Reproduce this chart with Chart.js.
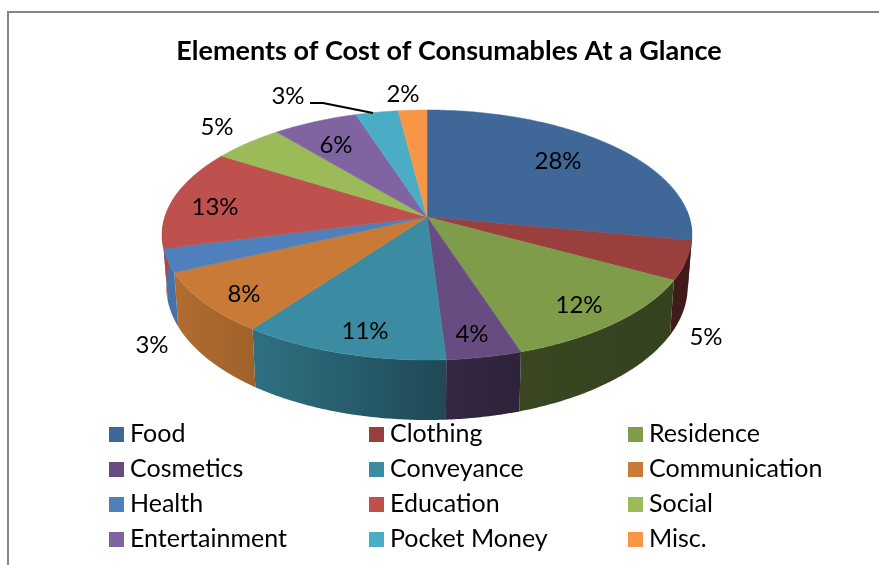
<!DOCTYPE html>
<html>
<head>
<meta charset="utf-8">
<style>
  html, body { margin: 0; padding: 0; background: #fff; }
  #wrap { width: 879px; height: 565px; position: relative; }
</style>
<script src="https://cdn.jsdelivr.net/npm/chart.js@4"></script>
</head>
<body>
<div id="wrap"><canvas id="cost"></canvas></div>
<script>
const titleText = 'Elements of Cost of Consumables At a Glance';
const categories = ['Food', 'Clothing', 'Residence', 'Cosmetics', 'Conveyance', 'Communication',
                    'Health', 'Education', 'Social', 'Entertainment', 'Pocket Money', 'Misc.'];
const shares = [28, 5, 12, 4, 11, 8, 3, 13, 5, 6, 3, 2];
const sliceColors = ['#3F6797', '#993F3E', '#7E9C4A', '#664C81', '#3B8CA3', '#C87A36',
                     '#4F80BC', '#BE504D', '#9BBB59', '#8064A2', '#4BACC6', '#F79646'];

// Perspective of the tilted disc
const APEX = { x: 427, y: 217 };
const RADIUS_X = 262.2, RADIUS_Y = 122.4, TILT = 0.144;
const WALL_INSET = 0.984;
const FONT_FACE = '"Lato", sans-serif';

// Where each percentage sits, in slice order
const labelAnchors = [[558,161],[706,337],[579,305],[472,334],[365,331],[244,294],
                      [152,345],[215,207],[217,127],[336,145],[288,96],[403,94]];
const leaderLine = [[310,103],[323,103],[373,113]];
const legendColumns = [109, 369, 628];
const legendRows = [434.5, 469.5, 504.5, 539.5];

function topPoint(angle) {
  const u = Math.cos(angle), v = Math.sin(angle);
  const s = 1 / (1 - TILT * v);
  return [APEX.x + RADIUS_X * u * s, APEX.y + RADIUS_Y * v * s];
}
function wallPoint(angle) {
  const [x, y] = topPoint(angle);
  return [APEX.x + (x - APEX.x) * WALL_INSET, y + 50 + 10 * Math.sin(angle)];
}
function arcAngles(start, end) {
  const steps = Math.max(2, Math.ceil((end - start) / 0.01));
  const out = [];
  for (let i = 0; i <= steps; i++) out.push(start + (end - start) * i / steps);
  return out;
}
// The side of the disc falls into shadow from left to right
function wallShade(x) {
  const knots = [[165,.9],[255,.8],[445,.52],[527,.45],[690,.42]];
  if (x <= knots[0][0]) return knots[0][1];
  for (let i = 1; i < knots.length; i++) {
    if (x <= knots[i][0]) {
      const [x0, f0] = knots[i-1], [x1, f1] = knots[i];
      return f0 + (f1 - f0) * (x - x0) / (x1 - x0);
    }
  }
  return knots[knots.length-1][1];
}
function shaded(hex, f) {
  const n = parseInt(hex.slice(1), 16);
  return `rgb(${Math.round((n>>16&255)*f)},${Math.round((n>>8&255)*f)},${Math.round((n&255)*f)})`;
}

const discPlugin = {
  id: 'disc',
  beforeDraw(chart) {
    const c = chart.ctx;
    c.save();
    c.strokeStyle = '#868686';
    c.lineWidth = 2;
    c.beginPath();
    c.moveTo(8, 565); c.lineTo(8, 12); c.lineTo(879, 12);
    c.stroke();
    c.restore();
  },
  beforeDatasetsDraw(chart) {
    const c = chart.ctx;
    const arcs = chart.getDatasetMeta(0).data;
    const colors = chart.data.datasets[0].backgroundColor;
    c.save();
    // side walls, only the part that faces the viewer
    arcs.forEach((arc, i) => {
      const a0 = Math.max(arc.startAngle, -0.05), a1 = Math.min(arc.endAngle, Math.PI + 0.25);
      if (a1 <= a0) return;
      const angles = arcAngles(a0, a1);
      const top = angles.map(topPoint), bottom = angles.map(wallPoint);
      const xs = top.concat(bottom).map(p => p[0]);
      const xMin = Math.min(...xs), xMax = Math.max(...xs);
      const g = c.createLinearGradient(xMin, 0, xMax, 0);
      for (let k = 0; k <= 4; k++) {
        g.addColorStop(k / 4, shaded(colors[i], wallShade(xMin + (xMax - xMin) * k / 4)));
      }
      c.fillStyle = g;
      c.beginPath();
      top.forEach((p, k) => k ? c.lineTo(p[0], p[1]) : c.moveTo(p[0], p[1]));
      bottom.reverse().forEach(p => c.lineTo(p[0], p[1]));
      c.closePath();
      c.fill();
    });
    // top surface
    arcs.forEach((arc, i) => {
      c.fillStyle = colors[i];
      c.strokeStyle = colors[i];
      c.lineWidth = 0.5;
      c.beginPath();
      c.moveTo(APEX.x, APEX.y);
      arcAngles(arc.startAngle, arc.endAngle).map(topPoint).forEach(p => c.lineTo(p[0], p[1]));
      c.closePath();
      c.fill();
      c.stroke();
    });
    c.restore();
    return false;
  },
  afterDraw(chart) {
    const c = chart.ctx;
    const values = chart.data.datasets[0].data;
    const colors = chart.data.datasets[0].backgroundColor;
    const total = values.reduce((a, b) => a + b, 0);
    c.save();
    c.fillStyle = '#000';
    c.textBaseline = 'middle';
    c.font = '24px ' + FONT_FACE;
    c.textAlign = 'center';
    values.forEach((v, i) => {
      c.fillText(Math.round(v / total * 100) + '%', labelAnchors[i][0], labelAnchors[i][1]);
    });
    c.strokeStyle = '#000';
    c.lineWidth = 2;
    c.beginPath();
    leaderLine.forEach((p, k) => k ? c.lineTo(p[0], p[1]) : c.moveTo(p[0], p[1]));
    c.stroke();
    // three-column key
    c.textAlign = 'left';
    c.font = '25px ' + FONT_FACE;
    chart.data.labels.forEach((name, i) => {
      const x = legendColumns[i % 3], y = legendRows[Math.floor(i / 3)];
      c.fillStyle = colors[i];
      c.fillRect(x, y - 7.5, 15, 15);
      c.fillStyle = '#000';
      c.fillText(name, x + 21, y - 1);
    });
    c.restore();
  }
};

new Chart(document.getElementById('cost'), {
  type: 'pie',
  data: {
    labels: categories,
    datasets: [{ data: shares, backgroundColor: sliceColors, borderWidth: 0 }]
  },
  options: {
    responsive: true,
    maintainAspectRatio: false,
    animation: false,
    layout: { padding: { left: 19 } },
    plugins: {
      legend: { display: false },
      tooltip: { enabled: false },
      title: {
        display: true,
        text: titleText,
        color: '#000',
        font: { family: FONT_FACE, size: 27, weight: 'bold' },
        padding: { top: 35, bottom: 10 }
      }
    }
  },
  plugins: [discPlugin]
});
</script>
</body>
</html>
